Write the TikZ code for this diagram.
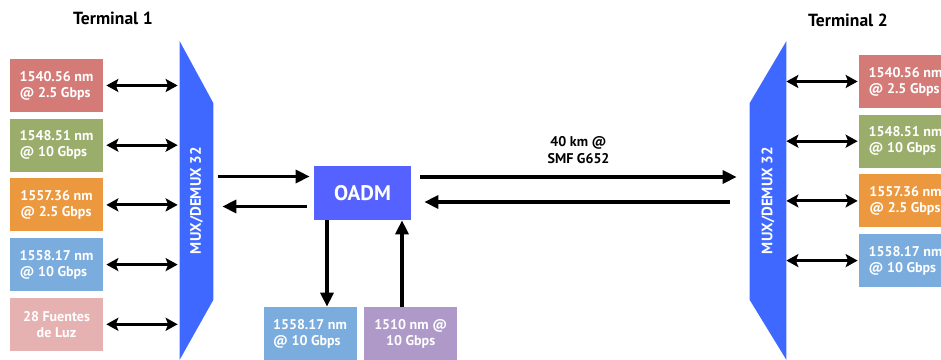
\documentclass[tikz,border=0pt]{standalone}
\usepackage{fontspec}
\setmainfont{PT Sans}
\usetikzlibrary{positioning,calc,arrows.meta,backgrounds}
\definecolor{chred}{RGB}{212,123,120}
\definecolor{chgreen}{RGB}{155,173,107}
\definecolor{chorange}{RGB}{236,152,62}
\definecolor{chblue}{RGB}{122,172,222}
\definecolor{chpink}{RGB}{229,177,177}
\definecolor{chpurple}{RGB}{174,153,200}
\definecolor{muxblue}{RGB}{62,104,255}
\definecolor{oadmblue}{RGB}{86,98,255}

\begin{document}
\begin{tikzpicture}[
    node distance=0.12cm,
    chan/.style={rectangle, fill=#1, minimum width=1.86cm, minimum height=1.06cm,
                 inner sep=1pt, text=white, align=left,
                 font=\fontsize{8}{9.2}\selectfont\bfseries},
    mux/.style={rectangle, minimum height=6.36cm, inner sep=0pt},
    muxtext/.style={rotate=90, text=white, font=\fontsize{8.6}{10}\selectfont\bfseries},
    title/.style={font=\fontsize{10}{12}\selectfont\bfseries},
    biarrow/.style={{Stealth[length=2.4mm, width=2.6mm, inset=0.5mm]}-{Stealth[length=2.4mm, width=2.6mm, inset=0.5mm]},
                    line width=1.8pt},
    arrow/.style={-{Triangle[length=2.8mm, width=2.6mm]}, line width=1.9pt}
]
\useasboundingbox (0,0) rectangle (18.82,7.2);

\node[title] (t1) at (2.26,6.84) {Terminal 1};
\node[title] (t2) at (16.96,6.80) {Terminal 2};

\node[mux, minimum width=0.66cm] (mux1) at (3.93,3.19) {};
\node[muxtext] (mux1txt) at (mux1) {MUX/DEMUX 32};
\node[mux, minimum width=0.72cm] (mux2) at (15.36,3.19) {};
\node[muxtext] (mux2txt) at (mux2) {MUX/DEMUX 32};

\begin{scope}[on background layer]
\fill[muxblue] (mux1.north west) -- ($(mux1.north east)+(0,-1.24)$)
    -- ($(mux1.south east)+(0,1.20)$) -- (mux1.south west) -- cycle;
\fill[muxblue] (mux2.north east) -- ($(mux2.north west)+(0,-1.24)$)
    -- ($(mux2.south west)+(0,1.20)$) -- (mux2.south east) -- cycle;
\end{scope}

\node[chan=chred] (b1) at (1.13,5.49) {1540.56 nm\\@ 2.5 Gbps};
\node[chan=chgreen, below=of b1] (b2) {1548.51 nm\\@ 10 Gbps};
\node[chan=chorange, below=of b2] (b3) {1557.36 nm\\@ 2.5 Gbps};
\node[chan=chblue, below=of b3] (b4) {1558.17 nm\\@ 10 Gbps};
\node[chan=chpink, below=of b4, align=center] (b5) {28 Fuentes\\de Luz};

\node[chan=chred] (r1) at (18.11,5.57) {1540.56 nm\\@ 2.5 Gbps};
\node[chan=chgreen, below=of r1] (r2) {1548.51 nm\\@ 10 Gbps};
\node[chan=chorange, below=of r2] (r3) {1557.36 nm\\@ 2.5 Gbps};
\node[chan=chblue, below=of r3] (r4) {1558.17 nm\\@ 10 Gbps};

\node[rectangle, fill=oadmblue, minimum width=1.94cm, minimum height=1.08cm,
      text=white, font=\fontsize{12}{14}\selectfont\bfseries] (oadm) at (7.25,3.34) {OADM};

\node[chan=chblue] (drop) at (6.20,0.53) {1558.17 nm\\@ 10 Gbps};
\node[chan=chpurple, align=center, right=0.14cm of drop] (add) {1510 nm @\\10 Gbps};

\coordinate (dropout) at ($(oadm.south)+(-0.71,0)$);
\coordinate (addin) at ($(oadm.south)+(0.79,0)$);

\draw[biarrow] ([xshift=0.06cm]b1.east) -- ([xshift=-0.04cm]b1.east -| mux1.west);
\draw[biarrow] ([xshift=0.06cm]b2.east) -- ([xshift=-0.04cm]b2.east -| mux1.west);
\draw[biarrow] ([xshift=0.06cm]b3.east) -- ([xshift=-0.04cm]b3.east -| mux1.west);
\draw[biarrow] ([xshift=0.06cm]b4.east) -- ([xshift=-0.04cm]b4.east -| mux1.west);
\draw[biarrow] ([xshift=0.06cm]b5.east) -- ([xshift=-0.04cm]b5.east -| mux1.west);

\draw[biarrow] (mux2.east |- r1.west) -- ([xshift=-0.02cm]r1.west);
\draw[biarrow] (mux2.east |- r2.west) -- ([xshift=-0.02cm]r2.west);
\draw[biarrow] (mux2.east |- r3.west) -- ([xshift=-0.02cm]r3.west);
\draw[biarrow] (mux2.east |- r4.west) -- ([xshift=-0.02cm]r4.west);

\draw[arrow] ($(mux1.east |- oadm.west)+(0.10,0.33)$) -- ($(oadm.west)+(-0.08,0.33)$);
\draw[arrow] ($(oadm.west)+(-0.14,-0.27)$) -- ($(mux1.east |- oadm.west)+(0.18,-0.27)$);

\draw[arrow] ($(oadm.east)+(0.18,0.32)$) -- ($(mux2.west |- oadm.east)+(-0.26,0.32)$)
    node[midway, above=0.12cm, align=center, font=\fontsize{8}{9.5}\selectfont\bfseries] (fiber) {40 km @\\SMF G652};
\draw[arrow] ($(mux2.west |- oadm.east)+(-0.40,-0.18)$) -- ($(oadm.east)+(0.26,-0.18)$);

\draw[arrow] (dropout) -- (dropout |- drop.north);
\draw[arrow] (addin |- add.north) -- (addin);

\end{tikzpicture}
\end{document}
